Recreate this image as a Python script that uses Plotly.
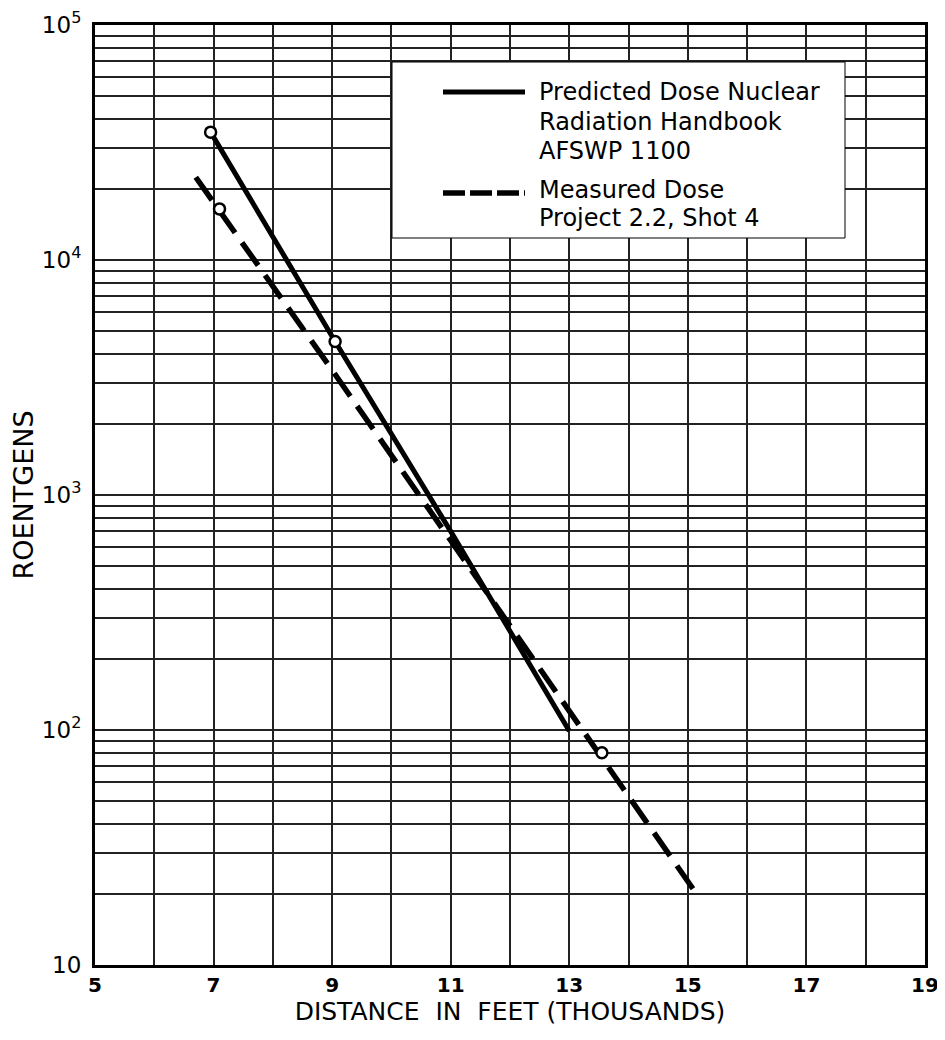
import plotly.graph_objects as go

# ---- data ----
pred_x = [6.95, 9.05, 11.0, 13.0]
pred_y = [35000, 4500, 700, 99]
pred_pts_x = [6.95, 9.05]
pred_pts_y = [35000, 4500]

meas_x = [6.7, 9.0, 11.0, 13.0, 15.15]
meas_y = [22500, 3400, 640, 120, 20]
meas_pts_x = [7.1, 13.55]
meas_pts_y = [16500, 80]

x_ticks = list(range(5, 20))
x_labels = [str(v) if v % 2 == 1 else "" for v in x_ticks]

y_ticks = [m * 10 ** e for e in range(1, 5) for m in range(1, 10)] + [100000]
y_power_text = {10: "10", 100: "10<sup>2</sup>", 1000: "10<sup>3</sup>",
                10000: "10<sup>4</sup>", 100000: "10<sup>5</sup>"}
y_labels = [y_power_text.get(v, "") for v in y_ticks]

legend_lines = [
    "Predicted Dose Nuclear",
    "Radiation Handbook",
    "AFSWP 1100",
    "Measured Dose",
    "Project 2.2, Shot 4",
]

FONT = "DejaVu Sans, Liberation Sans, sans-serif"

# page is drawn with an 8px body margin: screen coords -> figure coords
W, H = 937, 1024
PL, PR, PT, PB = 95, 925, 25, 965   # plot area in screen pixels


def px_to_paper(px, py):
    return (px - PL) / (PR - PL), (PB - py) / (PB - PT)


fig = go.Figure()
fig.add_trace(go.Scatter(x=pred_x, y=pred_y, mode="lines",
                         line=dict(color="black", width=5),
                         name="Predicted Dose Nuclear Radiation Handbook AFSWP 1100"))
fig.add_trace(go.Scatter(x=meas_x, y=meas_y, mode="lines",
                         line=dict(color="black", width=5.5, dash="28px,12px"),
                         name="Measured Dose Project 2.2, Shot 4"))
fig.add_trace(go.Scatter(x=pred_pts_x, y=pred_pts_y, mode="markers",
                         marker=dict(symbol="circle", size=11, color="white",
                                     line=dict(color="black", width=2.5)),
                         showlegend=False))
fig.add_trace(go.Scatter(x=meas_pts_x, y=meas_pts_y, mode="markers",
                         marker=dict(symbol="circle", size=11, color="white",
                                     line=dict(color="black", width=2.5)),
                         showlegend=False))

# legend panel (white, covering the grid)
bx0, by1 = px_to_paper(392, 62)
bx1, by0 = px_to_paper(845, 238)
fig.add_shape(type="rect", xref="paper", yref="paper", x0=bx0, x1=bx1, y0=by0, y1=by1,
              fillcolor="white", line=dict(color="black", width=1), layer="above")

# legend samples
sx0, sy = px_to_paper(443, 92)
sx1, _ = px_to_paper(525, 92)
fig.add_shape(type="line", xref="paper", yref="paper", x0=sx0, x1=sx1, y0=sy, y1=sy,
              line=dict(color="black", width=5), layer="above")
_, sy2 = px_to_paper(443, 193)
fig.add_shape(type="line", xref="paper", yref="paper", x0=sx0, x1=sx1, y0=sy2, y1=sy2,
              line=dict(color="black", width=5.5, dash="22px,5px"), layer="above")

text_y = [92, 122, 151, 190, 218]
for txt, ty in zip(legend_lines, text_y):
    tx, tyy = px_to_paper(537, ty)
    fig.add_annotation(x=tx, y=tyy, xref="paper", yref="paper", text=txt,
                       showarrow=False, xanchor="left", yanchor="middle",
                       font=dict(family=FONT, size=24, color="black"))

fig.update_layout(
    width=W, height=H,
    margin=dict(l=PL - 8, r=W - (PR - 8), t=PT - 8, b=H - (PB - 8), pad=0,
                autoexpand=False),
    paper_bgcolor="white", plot_bgcolor="white",
    showlegend=False,
    font=dict(family=FONT, color="black"),
    xaxis=dict(
        range=[5, 19], tickmode="array", tickvals=x_ticks, ticktext=x_labels,
        automargin=False, ticklabeloverflow="allow",
        showgrid=True, gridcolor="#222", gridwidth=1.5,
        showline=True, linecolor="black", linewidth=3, mirror=True,
        ticks="", zeroline=False,
        tickfont=dict(family=FONT, size=20, color="black", weight="bold"),
        title=dict(text="DISTANCE  IN  FEET (THOUSANDS)", standoff=0,
                   font=dict(family=FONT, size=25, color="black")),
    ),
    yaxis=dict(
        type="log", range=[1, 5], tickmode="array", tickvals=y_ticks, ticktext=y_labels,
        automargin=False, ticklabelstandoff=6, ticklabeloverflow="allow",
        showgrid=True, gridcolor="#222", gridwidth=1.5,
        showline=True, linecolor="black", linewidth=3, mirror=True,
        ticks="", zeroline=False,
        tickfont=dict(family=FONT, size=23, color="black"),
        title=dict(text="ROENTGENS", standoff=4,
                   font=dict(family=FONT, size=27, color="black")),
    ),
)

fig.write_html("out.html")
